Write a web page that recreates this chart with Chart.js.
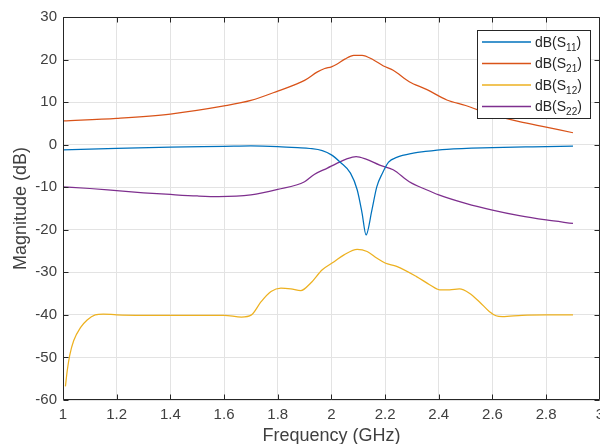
<!DOCTYPE html>
<html>
<head>
<meta charset="utf-8">
<script src="https://cdn.jsdelivr.net/npm/chart.js@4"></script>
<style>
html,body{margin:0;padding:0;background:#fff;overflow:hidden;}
#wrap{width:610px;height:444px;}
</style>
</head>
<body>
<div id="wrap"><canvas id="c" width="610" height="444"></canvas></div>
<script>
// ---- data ----
const seriesNames = ['11', '21', '12', '22'];
const seriesColors = ['#0072BD', '#D95319', '#EDB120', '#7E2F8E'];

const s11Freq = [1.0, 1.2, 1.4, 1.6, 1.7, 1.8, 1.874, 1.92, 1.966, 2.0, 2.034, 2.071, 2.096, 2.114, 2.129, 2.151, 2.169, 2.19, 2.213, 2.243, 2.305, 2.35, 2.43, 2.6, 2.75, 2.9];
const s11Mag  = [-1.2, -0.9, -0.55, -0.4, -0.3, -0.45, -0.7, -0.9, -1.4, -2.4, -4.2, -6.7, -10.6, -16.0, -21.2, -15.3, -9.9, -6.7, -4.1, -3.0, -2.0, -1.6, -1.1, -0.7, -0.5, -0.35];

const s21Freq = [1.0, 1.2, 1.4, 1.6, 1.7, 1.8, 1.9, 1.948, 1.975, 2.0, 2.02, 2.05, 2.083, 2.114, 2.157, 2.194, 2.23, 2.29, 2.354, 2.43, 2.5, 2.6, 2.7, 2.8, 2.9];
const s21Mag  = [5.6, 6.2, 7.2, 9.1, 10.4, 12.6, 15.1, 17.1, 17.9, 18.3, 18.9, 20.1, 21.0, 21.0, 19.9, 18.5, 17.5, 14.8, 13.0, 10.5, 9.2, 7.0, 5.4, 4.1, 2.8];

const s12Freq = [1.009, 1.016, 1.025, 1.04, 1.065, 1.09, 1.12, 1.15, 1.2, 1.3, 1.4, 1.5, 1.6, 1.665, 1.702, 1.738, 1.775, 1.812, 1.849, 1.886, 1.923, 1.966, 2.01, 2.047, 2.096, 2.133, 2.17, 2.2, 2.243, 2.317, 2.366, 2.403, 2.44, 2.477, 2.514, 2.551, 2.588, 2.613, 2.637, 2.71, 2.8, 2.9];
const s12Mag  = [-56.8, -53.0, -49.5, -46.0, -43.0, -41.2, -40.0, -39.8, -40.0, -40.1, -40.1, -40.1, -40.1, -40.5, -40.0, -36.9, -34.5, -33.7, -33.9, -34.3, -32.5, -29.4, -27.5, -25.9, -24.6, -25.1, -26.7, -27.8, -28.6, -31.0, -32.9, -34.1, -34.1, -33.9, -34.9, -36.9, -39.2, -40.2, -40.4, -40.1, -40.0, -40.0];

const s22Freq = [1.0, 1.1, 1.2, 1.3, 1.4, 1.5, 1.58, 1.7, 1.8, 1.9, 1.936, 1.985, 2.02, 2.055, 2.092, 2.129, 2.18, 2.23, 2.29, 2.354, 2.4, 2.5, 2.6, 2.7, 2.8, 2.9];
const s22Mag  = [-9.9, -10.3, -10.8, -11.3, -11.7, -12.05, -12.2, -11.8, -10.5, -8.7, -7.0, -5.5, -4.4, -3.4, -2.8, -3.4, -4.8, -5.9, -8.7, -10.6, -11.8, -13.8, -15.4, -16.7, -17.7, -18.5];

const xTickValues = [1, 1.2, 1.4, 1.6, 1.8, 2, 2.2, 2.4, 2.6, 2.8, 3];
const xTickLabels = ['1', '1.2', '1.4', '1.6', '1.8', '2', '2.2', '2.4', '2.6', '2.8', '3'];
const yTickValues = [-60, -50, -40, -30, -20, -10, 0, 10, 20, 30];
const yTickLabels = ['-60', '-50', '-40', '-30', '-20', '-10', '0', '10', '20', '30'];

const xTitle = 'Frequency (GHz)';
const yTitle = 'Magnitude (dB)';

// ---- build datasets ----
const freqs = [s11Freq, s21Freq, s12Freq, s22Freq];
const mags = [s11Mag, s21Mag, s12Mag, s22Mag];
const datasets = seriesNames.map((n, i) => ({
  label: 'dB(S' + n + ')',
  data: freqs[i].map((f, k) => ({x: f, y: mags[i][k]})),
  borderColor: seriesColors[i],
  backgroundColor: seriesColors[i],
  borderWidth: 1.25,
  pointRadius: 0,
  fill: false,
  cubicInterpolationMode: 'monotone'
}));

const FONT = '"Liberation Sans", Arial, Helvetica, sans-serif';
const AXIS_COLOR = '#262626';
const TEXT_COLOR = '#404040';

const decorPlugin = {
  id: 'decor',
  afterDraw(chart) {
    const ctx = chart.ctx;
    const {left, right, top, bottom} = chart.chartArea;
    const xs = chart.scales.x, ys = chart.scales.y;
    ctx.save();
    // frame
    ctx.strokeStyle = AXIS_COLOR;
    ctx.lineWidth = 1;
    const L = Math.round(left) + 0.5, R = Math.round(right) - 0.5, T = Math.round(top) + 0.5, B = Math.round(bottom) - 0.5;
    ctx.beginPath();
    ctx.moveTo(L, T); ctx.lineTo(R, T); ctx.lineTo(R, B); ctx.lineTo(L, B); ctx.closePath();
    ctx.stroke();
    // inward ticks
    const tl = 5;
    ctx.beginPath();
    xTickValues.forEach(v => {
      const px = Math.round(xs.getPixelForValue(v)) + 0.5;
      ctx.moveTo(px, B); ctx.lineTo(px, B - tl);
      ctx.moveTo(px, T); ctx.lineTo(px, T + tl);
    });
    yTickValues.forEach(v => {
      const py = Math.round(ys.getPixelForValue(v)) + 0.5;
      ctx.moveTo(L, py); ctx.lineTo(L + tl, py);
      ctx.moveTo(R, py); ctx.lineTo(R - tl, py);
    });
    ctx.stroke();

    // axis titles
    ctx.fillStyle = TEXT_COLOR;
    ctx.font = '18px ' + FONT;
    ctx.textAlign = 'center';
    ctx.textBaseline = 'alphabetic';
    ctx.fillText(xTitle, (left + right) / 2, 441);
    ctx.save();
    ctx.translate(26, (top + bottom) / 2);
    ctx.rotate(-Math.PI / 2);
    ctx.fillText(yTitle, 0, 0);
    ctx.restore();

    // legend
    const bx = 477.5, by = 30.5, bw = 113, bh = 88;
    ctx.fillStyle = '#ffffff';
    ctx.fillRect(bx, by, bw, bh);
    ctx.strokeStyle = AXIS_COLOR;
    ctx.lineWidth = 1;
    ctx.strokeRect(bx, by, bw, bh);
    const rowY = [42, 63.5, 85, 106.5];
    seriesNames.forEach((n, i) => {
      const cy = rowY[i];
      ctx.strokeStyle = seriesColors[i];
      ctx.lineWidth = 1.5;
      ctx.beginPath();
      ctx.moveTo(482, cy); ctx.lineTo(531, cy);
      ctx.stroke();
      ctx.fillStyle = '#262626';
      ctx.textAlign = 'left';
      ctx.textBaseline = 'alphabetic';
      ctx.font = '14px ' + FONT;
      let x0 = 535;
      ctx.fillText('dB(S', x0, cy + 4.5);
      x0 += ctx.measureText('dB(S').width;
      ctx.font = '10px ' + FONT;
      ctx.fillText(n, x0, cy + 8.5);
      x0 += ctx.measureText(n).width;
      ctx.font = '14px ' + FONT;
      ctx.fillText(')', x0, cy + 4.5);
    });
    ctx.restore();
  }
};

new Chart(document.getElementById('c'), {
  type: 'line',
  data: {datasets},
  options: {
    responsive: false,
    animation: false,
    layout: {padding: {top: 17, right: 6, left: 0, bottom: 0}},
    plugins: {legend: {display: false}, tooltip: {enabled: false}},
    scales: {
      x: {
        type: 'linear', min: 1, max: 3,
        afterBuildTicks: s => { s.ticks = xTickValues.map(v => ({value: v})); },
        afterFit: s => { s.height = 44; },
        ticks: {
          callback: (v, i) => xTickLabels[i],
          font: {family: FONT, size: 15}, color: TEXT_COLOR, padding: 6, maxRotation: 0, autoSkip: false
        },
        grid: {color: '#e3e3e3', lineWidth: 1, drawTicks: false},
        border: {display: false}
      },
      y: {
        type: 'linear', min: -60, max: 30,
        afterBuildTicks: s => { s.ticks = yTickValues.map(v => ({value: v})); },
        afterFit: s => { s.width = 63; },
        ticks: {
          callback: (v, i) => yTickLabels[i],
          font: {family: FONT, size: 15}, color: TEXT_COLOR, padding: 6, autoSkip: false
        },
        grid: {color: '#e3e3e3', lineWidth: 1, drawTicks: false},
        border: {display: false}
      }
    }
  },
  plugins: [decorPlugin]
});
</script>
</body>
</html>
